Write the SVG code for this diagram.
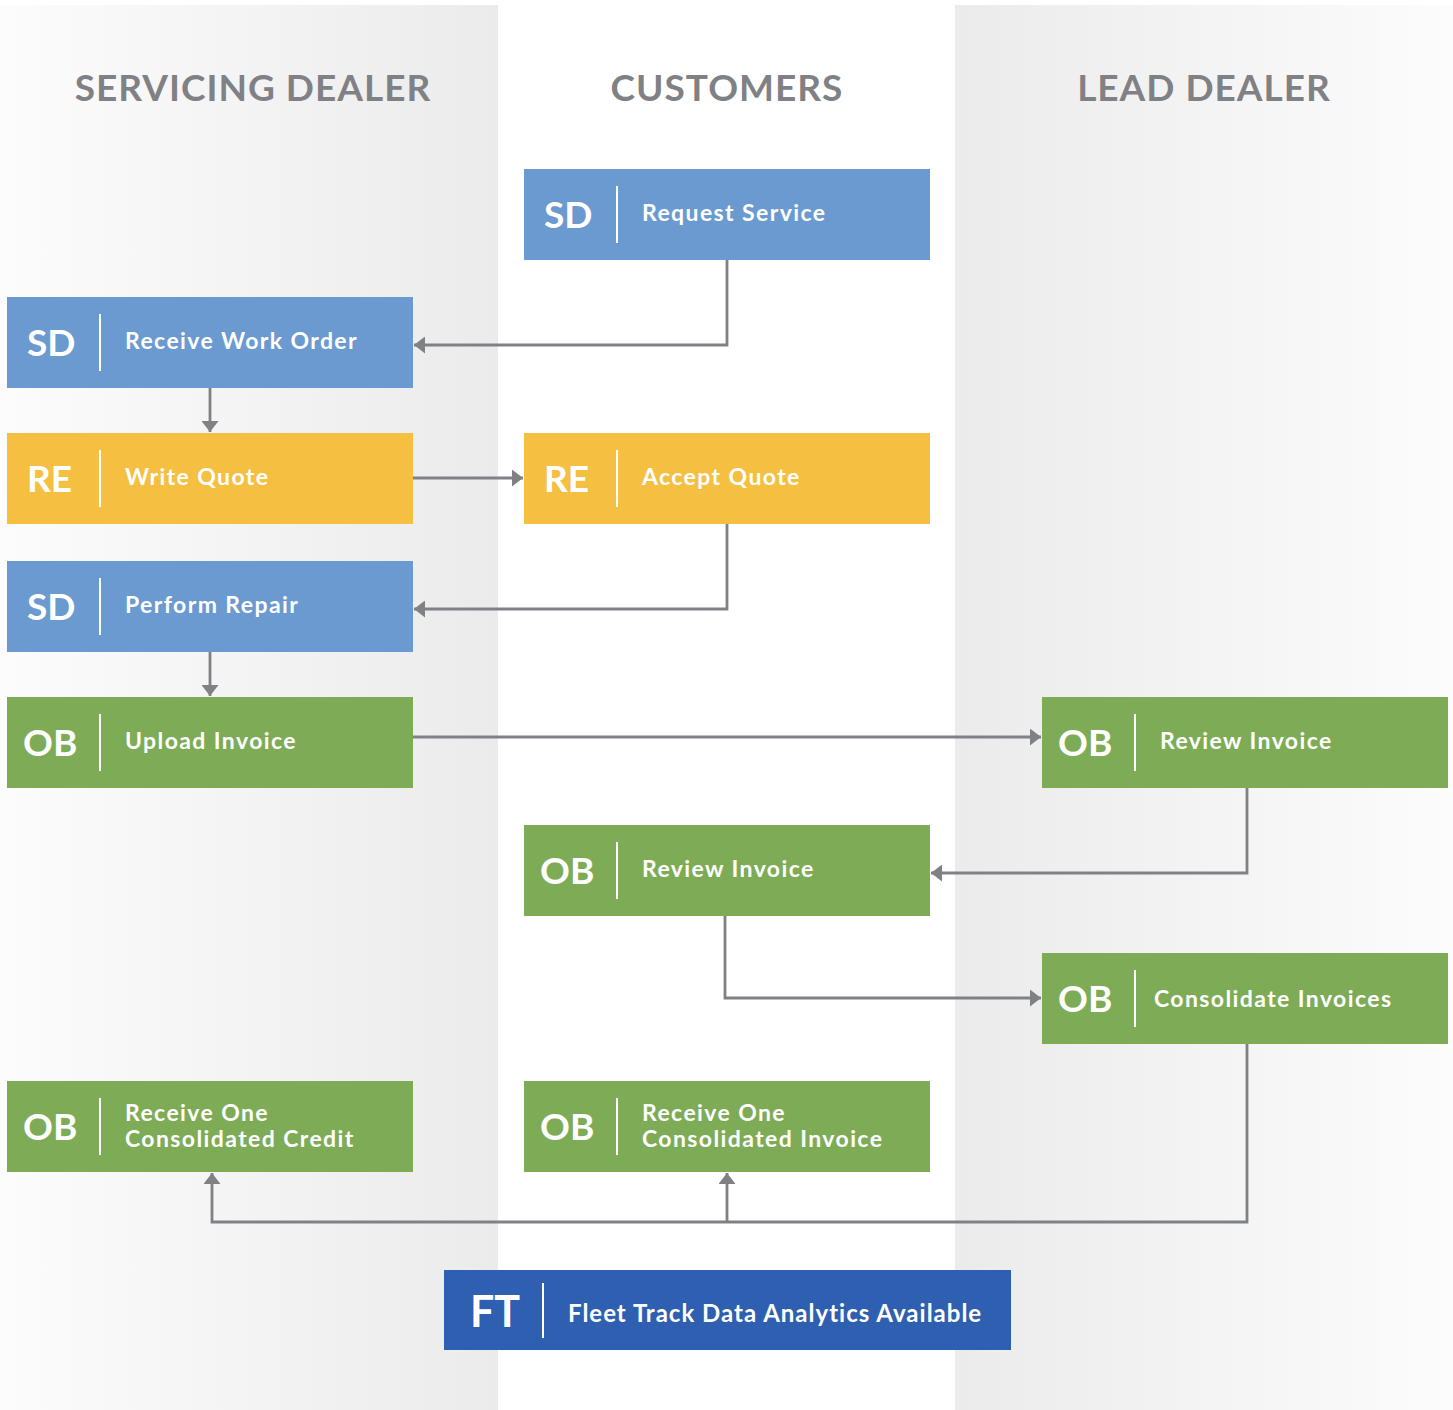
<svg xmlns="http://www.w3.org/2000/svg" width="1453" height="1410" viewBox="0 0 1453 1410">
<defs>
<linearGradient id="gl" x1="0" y1="0" x2="1" y2="0"><stop offset="0" stop-color="#fcfcfc"/><stop offset="1" stop-color="#ebebec"/></linearGradient>
<linearGradient id="gr" x1="0" y1="0" x2="1" y2="0"><stop offset="0" stop-color="#ebebec"/><stop offset="1" stop-color="#fcfcfc"/></linearGradient>
<marker id="ah" viewBox="0 0 11 17" refX="11" refY="8.5" markerWidth="11" markerHeight="17" markerUnits="userSpaceOnUse" orient="auto"><path d="M0,0 L11,8.5 L0,17 Z" fill="#808185"/></marker>
<style>
.hd{font-family:Lato,"Open Sans",sans-serif;font-weight:700;font-size:37px;letter-spacing:1px;fill:#808185;text-anchor:middle}
.cd{font-family:Lato,"Open Sans",sans-serif;font-weight:700;font-size:37px;fill:#fff}
.lb{font-family:Lato,"Open Sans",sans-serif;font-weight:700;font-size:23px;letter-spacing:1.4px;fill:#fff}
.dv{stroke:#fff;stroke-width:2}
.sd{fill:#6a9ad0}.re{fill:#f5c042}.ob{fill:#7eab56}.ft{fill:#2f5fb0}
.cn{fill:none;stroke:#808185;stroke-width:2.8}
</style>
</defs>
<rect x="0" y="0" width="1453" height="1410" fill="#fff"/>
<rect x="0" y="5" width="498" height="1405" fill="url(#gl)"/>
<rect x="955" y="5" width="498" height="1405" fill="url(#gr)"/>
<text class="hd" x="253" y="101">SERVICING DEALER</text>
<text class="hd" x="727" y="101">CUSTOMERS</text>
<text class="hd" x="1204" y="101">LEAD DEALER</text>
<g id="connectors">
<path class="cn" d="M727,260 V345 H414" marker-end="url(#ah)"/>
<path class="cn" d="M210,388 V432" marker-end="url(#ah)"/>
<path class="cn" d="M413,478 H523" marker-end="url(#ah)"/>
<path class="cn" d="M727,524 V609 H414" marker-end="url(#ah)"/>
<path class="cn" d="M210,652 V696" marker-end="url(#ah)"/>
<path class="cn" d="M413,737 H1041" marker-end="url(#ah)"/>
<path class="cn" d="M1247,788 V873 H931" marker-end="url(#ah)"/>
<path class="cn" d="M725,916 V998 H1041" marker-end="url(#ah)"/>
<path class="cn" d="M1247,1044 V1222 H212 V1173" marker-end="url(#ah)"/>
<path class="cn" d="M727,1222 V1173" marker-end="url(#ah)"/>
</g>
<g id="n-request-service"><rect class="sd" x="524" y="169" width="406" height="91"/><text class="cd" x="544" y="228">SD</text><line class="dv" x1="617" y1="186" x2="617" y2="243"/><text class="lb" x="642" y="221">Request Service</text></g>
<g id="n-receive-work-order"><rect class="sd" x="7" y="297" width="406" height="91"/><text class="cd" x="27" y="356">SD</text><line class="dv" x1="100" y1="314" x2="100" y2="371"/><text class="lb" x="125" y="349">Receive Work Order</text></g>
<g id="n-write-quote"><rect class="re" x="7" y="433" width="406" height="91"/><text class="cd" x="27" y="492">RE</text><line class="dv" x1="100" y1="450" x2="100" y2="507"/><text class="lb" x="125" y="485">Write Quote</text></g>
<g id="n-accept-quote"><rect class="re" x="524" y="433" width="406" height="91"/><text class="cd" x="544" y="492">RE</text><line class="dv" x1="617" y1="450" x2="617" y2="507"/><text class="lb" x="642" y="485">Accept Quote</text></g>
<g id="n-perform-repair"><rect class="sd" x="7" y="561" width="406" height="91"/><text class="cd" x="27" y="620">SD</text><line class="dv" x1="100" y1="578" x2="100" y2="635"/><text class="lb" x="125" y="613">Perform Repair</text></g>
<g id="n-upload-invoice"><rect class="ob" x="7" y="697" width="406" height="91"/><text class="cd" x="23" y="756">OB</text><line class="dv" x1="100" y1="714" x2="100" y2="771"/><text class="lb" x="125" y="749">Upload Invoice</text></g>
<g id="n-review-invoice-lead"><rect class="ob" x="1042" y="697" width="406" height="91"/><text class="cd" x="1058" y="756">OB</text><line class="dv" x1="1135" y1="714" x2="1135" y2="771"/><text class="lb" x="1160" y="749">Review Invoice</text></g>
<g id="n-review-invoice-customer"><rect class="ob" x="524" y="825" width="406" height="91"/><text class="cd" x="540" y="884">OB</text><line class="dv" x1="617" y1="842" x2="617" y2="899"/><text class="lb" x="642" y="877">Review Invoice</text></g>
<g id="n-consolidate-invoices"><rect class="ob" x="1042" y="953" width="406" height="91"/><text class="cd" x="1058" y="1012">OB</text><line class="dv" x1="1135" y1="970" x2="1135" y2="1027"/><text class="lb" x="1154" y="1007">Consolidate Invoices</text></g>
<g id="n-receive-credit"><rect class="ob" x="7" y="1081" width="406" height="91"/><text class="cd" x="23" y="1140">OB</text><line class="dv" x1="100" y1="1098" x2="100" y2="1155"/><text class="lb" x="125" y="1121">Receive One</text><text class="lb" x="125" y="1147">Consolidated Credit</text></g>
<g id="n-receive-invoice"><rect class="ob" x="524" y="1081" width="406" height="91"/><text class="cd" x="540" y="1140">OB</text><line class="dv" x1="617" y1="1098" x2="617" y2="1155"/><text class="lb" x="642" y="1121">Receive One</text><text class="lb" x="642" y="1147">Consolidated Invoice</text></g>
<g id="n-fleet-track"><rect class="ft" x="444" y="1270" width="567" height="80"/><text class="cd" x="470" y="1327" style="font-size:43px">FT</text><line class="dv" x1="543" y1="1283" x2="543" y2="1338"/><text class="lb" x="568" y="1322" style="font-size:24px;letter-spacing:1px">Fleet Track Data Analytics Available</text></g>
</svg>
